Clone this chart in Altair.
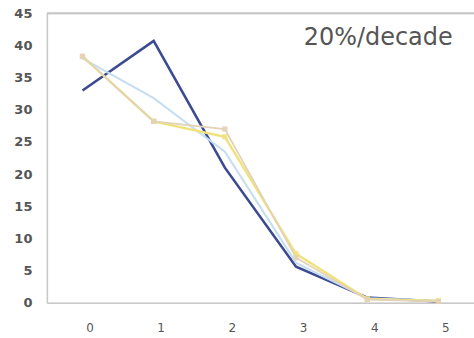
import altair as alt
import pandas as pd

# Decade index on the x axis
decades = ["0", "1", "2", "3", "4", "5"]

# Share (%) per decade for each series
navy_vals = [33.0, 40.7, 21.0, 5.6, 0.8, 0.2]
sky_vals = [38.0, 31.8, 23.5, 6.2, 0.7, 0.3]
gold_vals = [38.3, 28.2, 25.8, 7.6, 0.6, 0.3]
mauve_vals = [38.3, 28.2, 27.0, 7.0, 0.5, 0.2]

# y-axis tick values
y_ticks = [0, 5, 10, 15, 20, 25, 30, 35, 40, 45]

series_names = ["mauve", "sky", "gold", "navy"]
series_colors = ["#e2d2b8", "#c6def2", "#f0e27a", "#3c4a92"]
series_widths = [1.8, 2.6, 1.6, 3.2]
marker_colors = ["#cfa0bc", "#c6def2", "#ecdc58", "#3c4a92"]

rows = []
for name, vals in zip(["navy", "sky", "gold", "mauve"],
                      [navy_vals, sky_vals, gold_vals, mauve_vals]):
    for d, v in zip(decades, vals):
        rows.append({"decade": d, "value": v, "series": name})
df = pd.DataFrame(rows)

x_axis = alt.Axis(
    title=None, labelAngle=0, ticks=False, domainColor="#c8c8c8",
    domainWidth=1.5, labelColor="#555555", labelFontSize=12,
    labelFont="DejaVu Sans", labelPadding=20, labelOffset=7, grid=False,
)
y_axis = alt.Axis(
    title=None, values=y_ticks, ticks=False,
    domainColor="#c8c8c8", domainWidth=1.5, labelColor="#555555",
    labelFontSize=13, labelFont="DejaVu Sans", labelFontWeight="bold",
    labelPadding=15, labelOverlap=False, grid=False,
)
x_scale = alt.Scale(padding=0.5)
y_scale = alt.Scale(domain=[0, 45], nice=False)


def x_enc():
    return alt.X("decade:O", sort=decades, scale=x_scale, axis=x_axis)


def y_enc():
    return alt.Y("value:Q", scale=y_scale, axis=y_axis)


lines = alt.Chart(df).mark_line().encode(
    x=x_enc(),
    y=y_enc(),
    color=alt.Color("series:N", scale=alt.Scale(domain=series_names, range=series_colors), legend=None),
    strokeWidth=alt.StrokeWidth("series:N", scale=alt.Scale(domain=series_names, range=series_widths), legend=None),
    detail="series:N",
)

marker_df = df[df["series"].isin(["mauve", "gold"])]
markers = alt.Chart(marker_df).mark_point(shape="square", filled=True, size=28, opacity=0.9).encode(
    x=x_enc(),
    y=y_enc(),
    color=alt.Color("series:N", scale=alt.Scale(domain=series_names, range=marker_colors), legend=None),
)

# Light border along the top of the plot area
top_line = alt.Chart(pd.DataFrame({"value": [45]})).mark_rule(color="#c4c4c4", strokeWidth=2).encode(
    y=y_enc()
)

label = alt.Chart(pd.DataFrame({"decade": ["4"], "value": [41.1], "txt": ["20%/decade"]})).mark_text(
    fontSize=24, font="DejaVu Sans", color="#555555", dx=11
).encode(
    x=x_enc(),
    y=y_enc(),
    text="txt:N",
)

chart = alt.layer(lines, markers, top_line, label).properties(
    width=428,
    height=290,
    padding={"left": 47, "top": 13, "right": 0, "bottom": 35},
    autosize=alt.AutoSizeParams(type="none"),
).configure_view(stroke=None).configure(background="white")

chart.save("out.html", embed_options={"renderer": "svg", "actions": False})
